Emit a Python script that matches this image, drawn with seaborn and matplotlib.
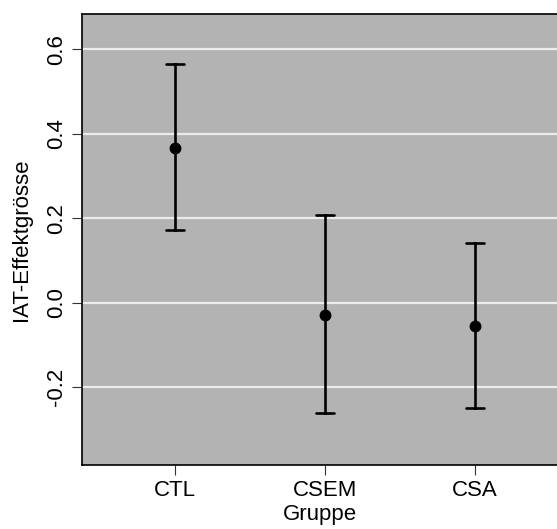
import matplotlib
matplotlib.use("Agg")
import matplotlib.pyplot as plt
import numpy as np
import pandas as pd
import seaborn as sns

# Gruppen und Effektgroessen (Mittelwert mit Konfidenzintervall)
groups = ["CTL", "CSEM", "CSA"]
means = [0.366, -0.030, -0.055]
lower = [0.172, -0.262, -0.250]
upper = [0.564, 0.207, 0.142]

# lange Tabelle: pro Gruppe untere Grenze, Mittelwert, obere Grenze
rows = []
for g, lo, m, hi in zip(groups, lower, means, upper):
    for v in (lo, m, hi):
        rows.append({"Gruppe": g, "IAT": v})
df = pd.DataFrame(rows)

sns.set_style("ticks")
plt.rcParams['font.family'] = ['Liberation Sans', 'DejaVu Sans']
plt.rcParams['text.color'] = 'black'
plt.rcParams['axes.labelcolor'] = 'black'

fig = plt.figure(figsize=(5.57, 5.29), dpi=100)
ax = fig.add_axes([0.1472, 0.121, 0.8528, 0.853])
ax.set_facecolor("#b3b3b3")

for y in [-0.2, 0.0, 0.2, 0.4, 0.6]:
    ax.axhline(y, color="#ececec", linewidth=1.6, zorder=0)

# Median von (lo, m, hi) = m, Fehlerbalken = min..max
sns.pointplot(data=df, x="Gruppe", y="IAT", order=groups,
              estimator="median", errorbar=lambda v: (v.min(), v.max()),
              linestyle="none", color="black", markers="o", markersize=6.5,
              capsize=0.12, err_kws={"linewidth": 1.9}, ax=ax)

ax.set_xlim(-0.62, 2.55)
ax.set_ylim(-0.384, 0.684)
ax.set_yticks([-0.2, 0.0, 0.2, 0.4, 0.6])
ax.set_yticklabels(["-0.2", "0.0", "0.2", "0.4", "0.6"], rotation=90, va="center")
ax.tick_params(axis="both", labelsize=16, length=7, width=0.8, pad=4,
               colors="#333333", labelcolor="black")
ax.set_xlabel("Gruppe", fontsize=16, labelpad=2)
ax.set_ylabel("IAT-Effektgrösse", fontsize=16, labelpad=10)

for s in ["top", "left", "bottom"]:
    ax.spines[s].set_color("black")
    ax.spines[s].set_linewidth(1.2)
ax.spines["right"].set_visible(False)

fig.savefig("out.png", dpi=100)
